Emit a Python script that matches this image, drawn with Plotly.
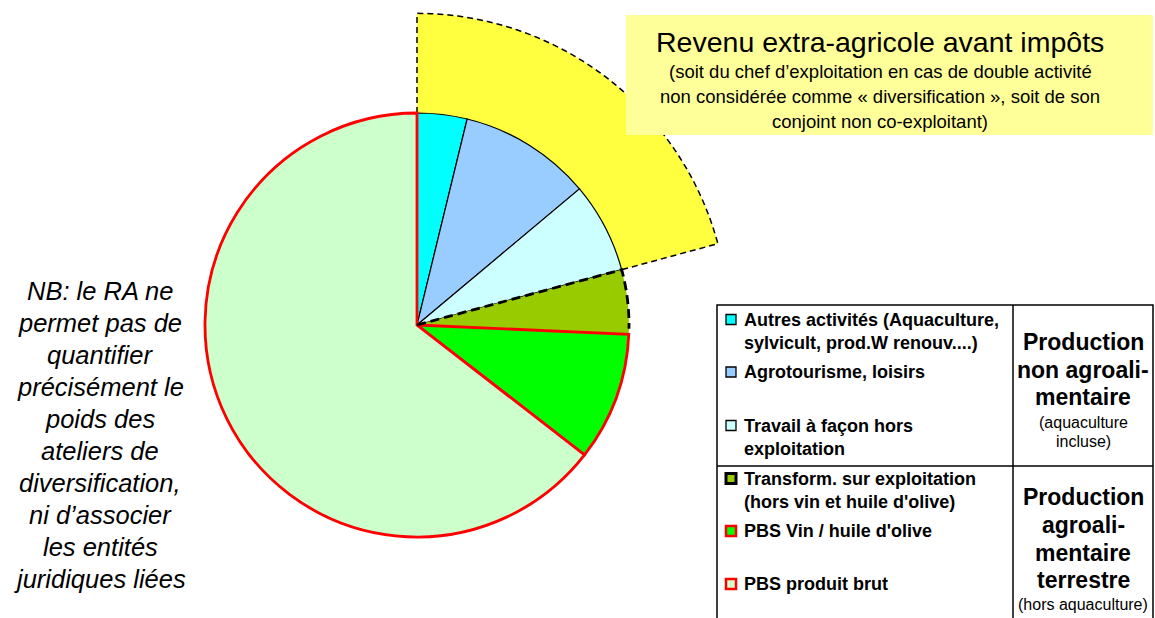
import numpy as np
import plotly.graph_objects as go

# ---------------- data ----------------
categories = [
    "Autres activités (Aquaculture,<br>sylvicult, prod.W renouv....)",
    "Agrotourisme, loisirs",
    "Travail à façon hors<br>exploitation",
    "Transform. sur exploitation<br>(hors vin et huile d'olive)",
    "PBS Vin / huile d'olive",
    "PBS produit brut",
]
shares = [3.8, 10.1, 6.9, 4.9, 9.8, 64.5]          # % of the pie
extra_income_slices = 3                            # slices covered by the yellow sector
extra_income_scale = 1.47                          # outer radius of the yellow sector vs pie

group_non_agro = ["Production", "non agroali-", "mentaire"]
group_non_agro_note = ["(aquaculture", "incluse)"]
group_agro = ["Production", "agroali-", "mentaire", "terrestre"]
group_agro_note = ["(hors aquaculture)"]

title_main = "Revenu extra-agricole avant impôts"
title_sub = [
    "(soit du chef d’exploitation en cas de double activité",
    "non considérée comme « diversification », soit de son",
    "conjoint non co-exploitant)",
]
nb_lines = ["NB: le RA ne", "permet pas de", "quantifier", "précisément le", "poids des",
            "ateliers de", "diversification,", "ni d’associer", "les entités", "juridiques liées"]

# ---------------- styles ----------------
slice_colors = ["#00FFFF", "#99CCFF", "#CCFFFF", "#99CC00", "#00FF00", "#CCFFCC"]
FONT = "Arial, Liberation Sans, sans-serif"
W, H = 1155, 618


def px(x):
    return x / W


def py(y):
    return 1 - y / H


def sector_bbox(lo, hi):
    angs = [lo, hi] + [a for a in (0, 90, 180, 270, 360, 450) if lo < a < hi]
    xs = [0.0] + [np.cos(np.radians(a)) for a in angs]
    ys = [0.0] + [np.sin(np.radians(a)) for a in angs]
    return min(xs), min(ys), max(xs), max(ys)


# geometry of the pie in pixels
cx, cy, R = 417, 325, 212

total = sum(shares)
widths = [s / total * 360 for s in shares]
starts = np.concatenate([[0], np.cumsum(widths)[:-1]])
centers = [s + w / 2 for s, w in zip(starts, widths)]
a_extra = float(sum(widths[:extra_income_slices]))
a_olive_end = float(sum(widths[:4]))

fig = go.Figure()

# ---- subplot "polar": yellow "revenu extra-agricole" sector ----
fig.add_trace(go.Barpolar(
    subplot="polar",
    r=[extra_income_scale], theta=[a_extra / 2], width=[a_extra],
    marker=dict(color="#FFFF40", line=dict(width=0)),
    hoverinfo="skip", showlegend=False,
))
arc = np.linspace(0, a_extra, 90)
th = np.concatenate([[0, 0], arc, [a_extra, a_extra]])
rr = np.concatenate([[1, extra_income_scale], np.full(arc.size, extra_income_scale),
                     [extra_income_scale, 1]])
fig.add_trace(go.Scatterpolar(
    subplot="polar",
    r=rr, theta=th, mode="lines", cliponaxis=False,
    line=dict(color="black", width=1.5, dash="6px,4px"),
    hoverinfo="skip", showlegend=False,
))

# ---- subplot "polar2": the pie ----
fig.add_trace(go.Barpolar(
    subplot="polar2",
    r=[1, 1, 1, 1], theta=centers[:4], width=widths[:4],
    marker=dict(color=slice_colors[:4],
                line=dict(color=["black", "black", "black", "rgba(0,0,0,0)"],
                          width=[1.2, 1.2, 1.2, 0])),
    hoverinfo="skip", showlegend=False,
))
fig.add_trace(go.Barpolar(
    subplot="polar2",
    r=[1, 1], theta=centers[4:], width=widths[4:],
    marker=dict(color=slice_colors[4:], line=dict(color="#FF0000", width=2.8)),
    hoverinfo="skip", showlegend=False,
))
arc2 = np.linspace(a_extra, a_olive_end - 1.5, 30)
th2 = np.concatenate([[a_extra, a_extra], arc2])
rr2 = np.concatenate([[0, 1], np.ones(arc2.size)])
fig.add_trace(go.Scatterpolar(
    subplot="polar2",
    r=rr2, theta=th2, mode="lines", cliponaxis=False,
    line=dict(color="black", width=2.8, dash="9px,5px"),
    hoverinfo="skip", showlegend=False,
))

# domains
pad_pie = 1.03
Rp2 = R * pad_pie
dom2_x = [px(cx - Rp2), px(cx + Rp2)]
dom2_y = [py(cy + Rp2), py(cy - Rp2)]

rmax1 = extra_income_scale * 1.02
Rp1 = R * rmax1
sec_lo, sec_hi = 90 - a_extra - 2, 92
bx0, by0, bx1, by1 = sector_bbox(sec_lo, sec_hi)
dom1_x = [px(cx + Rp1 * bx0), px(cx + Rp1 * bx1)]
dom1_y = [py(cy - Rp1 * by0), py(cy - Rp1 * by1)]

axis_common = dict(rotation=90, direction="clockwise", visible=False)

fig.update_layout(
    width=W, height=H,
    margin=dict(l=0, r=0, t=0, b=0),
    paper_bgcolor="white", plot_bgcolor="white",
    showlegend=False,
    polar=dict(
        domain=dict(x=dom1_x, y=dom1_y),
        sector=[sec_lo, sec_hi],
        bgcolor="rgba(0,0,0,0)", barmode="overlay", hole=0,
        radialaxis=dict(visible=False, range=[0, rmax1], autorange=False),
        angularaxis=axis_common,
    ),
    polar2=dict(
        domain=dict(x=dom2_x, y=dom2_y),
        bgcolor="rgba(0,0,0,0)", barmode="overlay", hole=0,
        radialaxis=dict(visible=False, range=[0, pad_pie], autorange=False),
        angularaxis=axis_common,
    ),
)

shapes = []
annotations = []

# title box
shapes.append(dict(type="rect", xref="paper", yref="paper", layer="above",
                   x0=px(626), x1=px(1153), y0=py(15), y1=py(135),
                   fillcolor="#FFFF99", line=dict(width=0)))
annotations.append(dict(text=title_main, x=px(880), y=py(42), xref="paper", yref="paper",
                        showarrow=False, xanchor="center", yanchor="middle",
                        font=dict(family=FONT, size=28.5, color="black")))
for i, t in enumerate(title_sub):
    annotations.append(dict(text=t, x=px(880), y=py(72 + 24.5 * i), xref="paper", yref="paper",
                            showarrow=False, xanchor="center", yanchor="middle",
                            font=dict(family=FONT, size=18.5, color="black")))

# NB text
for i, t in enumerate(nb_lines):
    annotations.append(dict(text="<i>" + t + "</i>", x=px(100), y=py(291 + 32 * i),
                            xref="paper", yref="paper", showarrow=False,
                            xanchor="center", yanchor="middle",
                            font=dict(family=FONT, size=25.5, color="black")))

# legend table
line_k = dict(color="black", width=1.5)
shapes.append(dict(type="rect", xref="paper", yref="paper", x0=px(717), x1=px(1153),
                   y0=py(305), y1=py(650), line=line_k, fillcolor="rgba(0,0,0,0)"))
shapes.append(dict(type="line", xref="paper", yref="paper", x0=px(1013), x1=px(1013),
                   y0=py(305), y1=py(650), line=line_k))
shapes.append(dict(type="line", xref="paper", yref="paper", x0=px(717), x1=px(1153),
                   y0=py(466), y1=py(466), line=line_k))

item_y = [331, 372, 437, 490, 531, 584]
item_border = ["black", "black", "black", "black", "#FF0000", "#FF0000"]
item_bw = [1.3, 1.3, 1.3, 3, 2.5, 2.5]
for i, (lab, col) in enumerate(zip(categories, slice_colors)):
    n_lines = lab.count("<br>") + 1
    first_y = item_y[i] - (n_lines - 1) * 11.5
    shapes.append(dict(type="rect", xref="paper", yref="paper", layer="above",
                       x0=px(726), x1=px(736), y0=py(first_y - 5), y1=py(first_y + 5),
                       fillcolor=col, line=dict(color=item_border[i], width=item_bw[i])))
    annotations.append(dict(text="<b>" + lab + "</b>", x=px(742), y=py(item_y[i]),
                            xref="paper", yref="paper", showarrow=False,
                            xanchor="left", yanchor="middle", align="left",
                            font=dict(family=FONT, size=18, color="black")))

for t, yy in zip(group_non_agro, [342, 369.5, 397]):
    annotations.append(dict(text="<b>" + t + "</b>", x=px(1083), y=py(yy), xref="paper",
                            yref="paper", showarrow=False, xanchor="center", yanchor="middle",
                            font=dict(family=FONT, size=23, color="black")))
for t, yy in zip(group_non_agro_note, [422, 441]):
    annotations.append(dict(text=t, x=px(1083), y=py(yy), xref="paper",
                            yref="paper", showarrow=False, xanchor="center", yanchor="middle",
                            font=dict(family=FONT, size=16, color="black")))
for t, yy in zip(group_agro, [497, 525, 553, 580]):
    annotations.append(dict(text="<b>" + t + "</b>", x=px(1083), y=py(yy), xref="paper",
                            yref="paper", showarrow=False, xanchor="center", yanchor="middle",
                            font=dict(family=FONT, size=23, color="black")))
for t, yy in zip(group_agro_note, [604]):
    annotations.append(dict(text=t, x=px(1083), y=py(yy), xref="paper",
                            yref="paper", showarrow=False, xanchor="center", yanchor="middle",
                            font=dict(family=FONT, size=16, color="black")))

fig.update_layout(shapes=shapes, annotations=annotations)
fig.write_html("out.html", config={"displayModeBar": False},
               post_script="document.body.style.margin='0px';document.body.style.overflow='hidden';")
